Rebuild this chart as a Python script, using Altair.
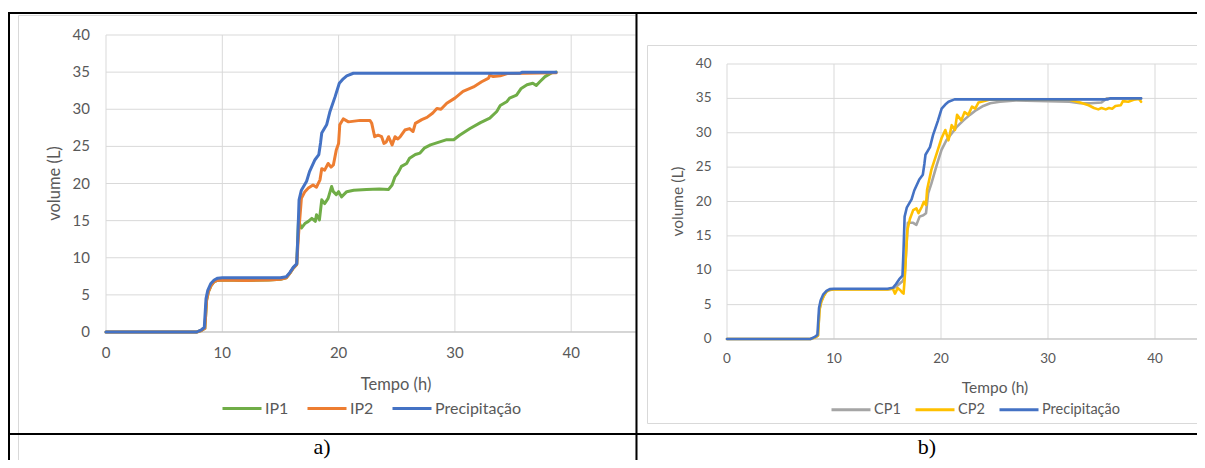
import altair as alt
import pandas as pd

# ---------------- data ----------------
precip_t = [0, 7.8, 8.2, 8.45, 8.6, 8.75, 9.0, 9.3, 9.6, 10.0, 15.0, 15.5, 15.8, 16.1, 16.4, 16.5,
            16.6, 16.8, 17.25, 17.5, 17.97, 18.3, 18.45, 18.55, 18.97, 19.26, 19.7, 20.06, 20.4,
            20.7, 21.27, 35.6, 35.8, 38.7]
precip_v = [0, 0, 0.3, 0.6, 4.5, 5.6, 6.5, 7.0, 7.25, 7.3, 7.3, 7.45, 8.0, 8.7, 9.2, 13.0,
            17.8, 19.1, 20.3, 21.6, 23.2, 23.9, 25.5, 26.8, 27.9, 29.7, 31.7, 33.5, 34.1,
            34.5, 34.85, 34.85, 35.0, 35.0]

ip2_t = [0, 7.8, 8.2, 8.5, 8.65, 8.8, 9.05, 9.3, 9.6, 10.0, 12.0, 14.0, 15.0, 15.5, 15.8, 16.1,
         16.4, 16.55, 16.8, 17.1, 17.4, 17.8, 18.1, 18.4, 18.55, 18.8, 19.1, 19.35, 19.55, 19.8,
         20.0, 20.1, 20.4, 20.85, 21.85, 22.7, 22.85, 23.1, 23.4, 23.7, 23.9, 24.1, 24.3, 24.6,
         24.85, 25.1, 25.3, 25.7, 26.1, 26.4, 26.6, 27.15, 27.6, 28.1, 28.45, 28.8, 29.3, 30.0,
         30.7, 31.6, 32.3, 32.9, 33.0, 33.3, 33.9, 34.5, 36.0, 38.7]
ip2_v = [0, 0, 0.2, 0.5, 4.3, 5.4, 6.3, 6.8, 6.95, 7.0, 6.95, 7.0, 7.1, 7.3, 7.9, 8.6,
         9.1, 13.0, 18.0, 18.9, 19.4, 19.8, 19.5, 20.5, 22.0, 21.8, 22.7, 22.2, 22.5, 24.5,
         25.4, 27.9, 28.7, 28.3, 28.5, 28.5, 28.1, 26.3, 26.5, 26.3, 25.4, 25.6, 26.3, 25.2,
         26.3, 26.0, 26.3, 27.2, 27.4, 27.0, 28.1, 28.6, 28.9, 29.5, 30.1, 30.0, 30.8, 31.5,
         32.4, 33.0, 33.7, 34.2, 34.6, 34.4, 34.5, 34.8, 34.85, 34.9]

ip1_t = [0, 7.8, 8.2, 8.5, 8.65, 8.8, 9.05, 9.3, 9.6, 10.0, 12.0, 14.0, 15.0, 15.5, 15.8, 16.1,
         16.4, 16.55, 16.8, 17.1, 17.4, 17.7, 18.0, 18.1, 18.35, 18.55, 18.8, 19.1, 19.4, 19.55,
         19.8, 20.0, 20.25, 20.7, 21.3, 22.4, 23.5, 24.3, 24.6, 24.85, 25.1, 25.4, 25.85, 26.1,
         26.6, 27.0, 27.4, 27.9, 28.7, 29.3, 29.9, 30.4, 31.3, 32.2, 33.0, 33.6, 33.9, 34.45,
         34.7, 35.3, 35.7, 36.2, 36.7, 37.0, 37.3, 37.75, 38.3, 38.7]
ip1_v = [0, 0, 0.2, 0.5, 4.3, 5.4, 6.3, 6.8, 6.95, 7.0, 6.95, 7.0, 7.1, 7.3, 7.9, 8.6,
         9.1, 15.0, 14.0, 14.6, 14.9, 15.3, 14.9, 15.8, 15.1, 17.8, 17.3, 18.0, 19.6, 18.9,
         18.5, 18.9, 18.2, 18.9, 19.1, 19.2, 19.25, 19.2, 19.8, 20.9, 21.4, 22.3, 22.7, 23.4,
         23.9, 24.1, 24.8, 25.2, 25.6, 25.9, 25.9, 26.5, 27.4, 28.2, 28.8, 29.7, 30.5, 31.0,
         31.5, 31.9, 32.8, 33.3, 33.5, 33.2, 33.7, 34.4, 34.9, 35.0]

cp1_t = [0, 7.8, 8.2, 8.5, 8.65, 8.8, 9.05, 9.3, 9.6, 10.0, 15.0, 15.5, 15.8, 16.1, 16.4, 16.6,
         16.9, 17.4, 17.7, 18.0, 18.35, 18.6, 18.8, 19.1, 19.6, 20.05, 20.5, 21.0, 21.5, 22.1,
         22.7, 23.3, 23.95, 24.6, 25.5, 27.0, 32.0, 33.0, 34.0, 35.0, 35.5, 36.5, 38.7]
cp1_v = [0, 0, 0.2, 0.5, 4.3, 5.4, 6.3, 6.9, 7.15, 7.2, 7.2, 7.35, 7.6, 8.0, 8.4, 9.0,
         16.9, 16.9, 16.6, 17.8, 18.0, 18.3, 21.2, 22.6, 25.3, 27.5, 28.9, 29.9, 30.9, 31.8,
         32.6, 33.3, 33.9, 34.3, 34.5, 34.7, 34.5, 34.3, 34.3, 34.4, 35.0, 35.0, 35.0]

cp2_t = [0, 7.8, 8.2, 8.5, 8.65, 8.8, 9.05, 9.3, 9.6, 10.0, 15.0, 15.5, 15.7, 15.95, 16.2, 16.35,
         16.5, 16.6, 16.85, 17.1, 17.4, 17.7, 17.9, 18.2, 18.4, 18.6, 18.7, 19.1, 19.6, 20.05,
         20.4, 20.7, 21.0, 21.3, 21.5, 21.9, 22.2, 22.55, 22.9, 23.2, 23.5, 24.5, 32.0, 33.0,
         33.8, 34.3, 34.7, 35.0, 35.4, 35.7, 36.0, 36.3, 36.8, 37.0, 37.5, 38.0, 38.5, 38.7]
cp2_v = [0, 0, 0.2, 0.5, 4.3, 5.4, 6.3, 6.9, 7.15, 7.2, 7.2, 7.3, 6.6, 7.4, 7.1, 6.8,
         6.6, 8.6, 15.8, 17.5, 18.75, 19.0, 18.3, 19.2, 19.96, 19.5, 21.7, 24.6, 27.0, 29.2,
         30.4, 28.9, 31.1, 30.4, 32.6, 31.8, 33.0, 32.6, 33.8, 33.5, 34.4, 34.8, 34.8, 34.4,
         34.0, 33.6, 33.4, 33.6, 33.4, 33.6, 33.5, 33.9, 34.0, 34.6, 34.5, 34.8, 34.9, 34.5]

x_ticks = [0, 10, 20, 30, 40]
y_ticks = [0, 5, 10, 15, 20, 25, 30, 35, 40]

left_names = ["IP1", "IP2", "Precipitação"]
left_colors = ["#70AD47", "#ED7D31", "#4472C4"]
right_names = ["CP1", "CP2", "Precipitação"]
right_colors = ["#A5A5A5", "#FFC000", "#4472C4"]

x_title = "Tempo (h)"
y_title = "volume (L)"

FONT = "Lato"
TXT = "#595959"
GRID = "#d9d9d9"
W, H = 1189, 452


def sdf(t, v, name):
    return pd.DataFrame({"t": t, "v": v, "series": name})


def panel(series, names, colors, xr, yr, grid_right, lab, legend, sw):
    xs = alt.Scale(domain=[0, 50], range=xr, nice=False, zero=False)
    ys = alt.Scale(domain=[0, 40], range=yr, nice=False, zero=False)
    cs = alt.Scale(domain=names, range=colors)
    hgrid = alt.Chart(pd.DataFrame({"y": y_ticks})).mark_rule(color=GRID, strokeWidth=1).encode(
        y=alt.Y("y:Q", scale=ys, axis=None),
        x=alt.XDatum(0, type="quantitative", scale=xs, axis=None),
        x2=alt.value(grid_right),
    )
    vgrid = alt.Chart(pd.DataFrame({"x": x_ticks})).mark_rule(color=GRID, strokeWidth=1).encode(
        x=alt.X("x:Q", scale=xs, axis=None),
        y=alt.YDatum(0, type="quantitative", scale=ys, axis=None),
        y2=alt.datum(40),
    )
    base = alt.Chart(pd.DataFrame({"y": [0]})).mark_rule(color="#bfbfbf", strokeWidth=1).encode(
        y=alt.Y("y:Q", scale=ys, axis=None),
        x=alt.XDatum(0, type="quantitative", scale=xs, axis=None),
        x2=alt.value(grid_right),
    )
    # tick labels and axis titles, placed through the panel's scales
    ylab = alt.Chart(pd.DataFrame({"y": y_ticks})).mark_text(
        align="right", baseline="middle", font=FONT, fontSize=lab["fs"], color=TXT).encode(
        y=alt.Y("y:Q", scale=ys, axis=None), x=alt.value(lab["ylx"]), text=alt.Text("y:Q"))
    xlab = alt.Chart(pd.DataFrame({"x": x_ticks})).mark_text(
        align="center", baseline="middle", font=FONT, fontSize=lab["fs"], color=TXT).encode(
        x=alt.X("x:Q", scale=xs, axis=None), y=alt.value(lab["xly"]), text=alt.Text("x:Q"))
    xt = alt.Chart().mark_text(align="center", baseline="middle", font=FONT,
                               fontSize=lab["tfs"], color=TXT).encode(
        x=alt.value(lab["xtx"]), y=alt.value(lab["xty"]), text=alt.value(x_title))
    yt = alt.Chart().mark_text(align="center", baseline="middle", font=FONT, angle=270,
                               fontSize=lab["tfs"], color=TXT).encode(
        x=alt.value(lab["ytx"]), y=alt.value(lab["yty"]), text=alt.value(y_title))
    layers = [hgrid, vgrid, base, ylab, xlab, xt, yt]
    for t, v, name in series:
        layers.append(
            alt.Chart(sdf(t, v, name)).mark_line(strokeWidth=sw, strokeJoin="round", strokeCap="round").encode(
                x=alt.X("t:Q", scale=xs, axis=None),
                y=alt.Y("v:Q", scale=ys, axis=None),
                color=alt.Color("series:N", scale=cs, legend=legend),
            )
        )
    return alt.layer(*layers)


def leg(lx, ly, fs, cpad):
    return alt.Legend(orient="none", legendX=lx, legendY=ly, direction="horizontal", columns=3,
                      title=None, symbolType="stroke", symbolSize=1521, symbolStrokeWidth=3,
                      labelFontSize=fs, labelFont=FONT, labelColor=TXT, columnPadding=cpad,
                      labelOffset=2, padding=0)


left = panel([(ip1_t, ip1_v, "IP1"), (ip2_t, ip2_v, "IP2"), (precip_t, precip_v, "Precipitação")],
             left_names, left_colors, [98, 679.5], [324, 27], 628,
             dict(fs=15, tfs=16.5, ylx=82, xly=345, xtx=388, xty=377, ytx=47, yty=175.5),
             leg(213, 379.5, 16, 12), 3)

right = panel([(cp1_t, cp1_v, "CP1"), (cp2_t, cp2_v, "CP2"), (precip_t, precip_v, "Precipitação")],
              right_names, right_colors, [719, 1254], [331, 56], W,
              dict(fs=13.5, tfs=15.5, ylx=703.5, xly=351, xtx=987, xty=380, ytx=670, yty=193.5),
              leg(822, 380.5, 14.5, 8), 2.6)

# ---------------- decoration: table borders, chart frames, captions ----------------
frame_l = alt.Chart().mark_rect(filled=False, stroke="#d9d9d9", strokeWidth=1).encode(
    x=alt.value(10.5), x2=alt.value(628), y=alt.value(7.5), y2=alt.value(500))
frame_r = alt.Chart().mark_rect(filled=False, stroke="#d9d9d9", strokeWidth=1).encode(
    x=alt.value(639.5), x2=alt.value(1300), y=alt.value(37.5), y2=alt.value(415.5))


def hline(y, x1, x2):
    return alt.Chart().mark_rule(color="black", strokeWidth=2).encode(
        y=alt.value(y), x=alt.value(x1), x2=alt.value(x2))


def vline(x, y1, y2):
    return alt.Chart().mark_rule(color="black", strokeWidth=2).encode(
        x=alt.value(x), y=alt.value(y1), y2=alt.value(y2))


borders = [hline(5, 0, W), hline(426, 0, W), vline(1, 4, H), vline(628.5, 4, H)]

cap_a = alt.Chart().mark_text(font="Liberation Serif", fontSize=22, color="black",
                              align="center", baseline="bottom").encode(
    x=alt.value(314), y=alt.value(451), text=alt.value("a)"))
cap_b = alt.Chart().mark_text(font="Liberation Serif", fontSize=22, color="black",
                              align="center", baseline="bottom").encode(
    x=alt.value(919), y=alt.value(451), text=alt.value("b)"))

chart = alt.layer(
    frame_l, frame_r, left, right, *borders, cap_a, cap_b
).resolve_scale(
    x="independent", y="independent", color="independent"
).resolve_legend(
    color="independent"
).properties(
    width=W, height=H, padding=0, autosize=alt.AutoSizeParams(type="none"),
    background="white"
).configure_view(stroke=None)

chart.save("out.html", embed_options={"renderer": "svg", "actions": False})
